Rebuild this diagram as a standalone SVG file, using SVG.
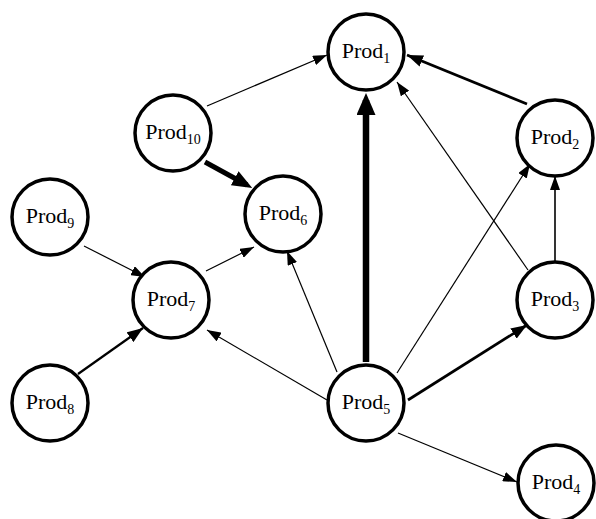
<svg xmlns="http://www.w3.org/2000/svg" width="596" height="519" viewBox="0 0 596 519">
<style>
.node circle{fill:#fff;stroke:#000;stroke-width:3.5}
.node text{font-family:'Liberation Serif',serif;font-size:22px;fill:#000;text-anchor:middle}
.sub{font-size:14px}
.e{stroke:#000;fill:none}
.t1{stroke-width:1.2}
.t15{stroke-width:1.6}
.t2{stroke-width:2.2}
.t25{stroke-width:2.7}
.t5{stroke-width:5}
.t6{stroke-width:6.5}
</style>
<defs>
<marker id="a1" markerUnits="userSpaceOnUse" markerWidth="14" markerHeight="10" refX="14" refY="5" orient="auto"><path d="M0,0 L14,5 L0,10 z" fill="#000"/></marker>
<marker id="a2" markerUnits="userSpaceOnUse" markerWidth="16" markerHeight="12" refX="16" refY="6" orient="auto"><path d="M0,0 L16,6 L0,12 z" fill="#000"/></marker>
<marker id="a3" markerUnits="userSpaceOnUse" markerWidth="20" markerHeight="16" refX="14" refY="8" orient="auto"><path d="M0,0 L20,8 L0,16 z" fill="#000"/></marker>
<marker id="a4" markerUnits="userSpaceOnUse" markerWidth="22" markerHeight="19" refX="15" refY="9.5" orient="auto"><path d="M0,0 L22,9.5 L0,19 z" fill="#000"/></marker>
</defs>
<g id="connectors">
<line class="e t1" x1="207" y1="106" x2="327" y2="55" marker-end="url(#a1)"/>
<line class="e t6" x1="366" y1="362" x2="366" y2="100" marker-end="url(#a4)"/>
<line class="e t1" x1="528" y1="270" x2="397" y2="82" marker-end="url(#a1)"/>
<line class="e t25" x1="527" y1="104" x2="407" y2="55" marker-end="url(#a2)"/>
<line class="e t5" x1="205" y1="162" x2="247" y2="185" marker-end="url(#a3)"/>
<line class="e t1" x1="84" y1="246" x2="145" y2="277" marker-end="url(#a1)"/>
<line class="e t1" x1="206" y1="271" x2="254" y2="247" marker-end="url(#a1)"/>
<line class="e t2" x1="78" y1="374" x2="143" y2="328" marker-end="url(#a2)"/>
<line class="e t1" x1="327" y1="400" x2="207" y2="330" marker-end="url(#a1)"/>
<line class="e t1" x1="337" y1="372" x2="287" y2="251" marker-end="url(#a1)"/>
<line class="e t1" x1="397" y1="373" x2="530" y2="164" marker-end="url(#a1)"/>
<line class="e t25" x1="408" y1="400" x2="527" y2="325" marker-end="url(#a2)"/>
<line class="e t15" x1="555" y1="262" x2="555" y2="176" marker-end="url(#a1)"/>
<line class="e t1" x1="398" y1="433" x2="517" y2="482" marker-end="url(#a1)"/>
</g>
<g id="Prod1" class="node"><circle cx="366" cy="52" r="38"/><text x="366" y="58" font-family="Liberation Serif, serif">Prod<tspan class="sub" dy="5">1</tspan></text></g>
<g id="Prod2" class="node"><circle cx="555" cy="138" r="38"/><text x="555" y="144" font-family="Liberation Serif, serif">Prod<tspan class="sub" dy="5">2</tspan></text></g>
<g id="Prod10" class="node"><circle cx="173" cy="133" r="38"/><text x="173" y="139" font-family="Liberation Serif, serif">Prod<tspan class="sub" dy="5">10</tspan></text></g>
<g id="Prod9" class="node"><circle cx="50" cy="217" r="38"/><text x="50" y="223" font-family="Liberation Serif, serif">Prod<tspan class="sub" dy="5">9</tspan></text></g>
<g id="Prod6" class="node"><circle cx="283" cy="214" r="38"/><text x="283" y="220" font-family="Liberation Serif, serif">Prod<tspan class="sub" dy="5">6</tspan></text></g>
<g id="Prod7" class="node"><circle cx="171" cy="300" r="38"/><text x="171" y="306" font-family="Liberation Serif, serif">Prod<tspan class="sub" dy="5">7</tspan></text></g>
<g id="Prod3" class="node"><circle cx="555" cy="300" r="38"/><text x="555" y="306" font-family="Liberation Serif, serif">Prod<tspan class="sub" dy="5">3</tspan></text></g>
<g id="Prod8" class="node"><circle cx="50" cy="403" r="38"/><text x="50" y="409" font-family="Liberation Serif, serif">Prod<tspan class="sub" dy="5">8</tspan></text></g>
<g id="Prod5" class="node"><circle cx="366" cy="403" r="38"/><text x="366" y="409" font-family="Liberation Serif, serif">Prod<tspan class="sub" dy="5">5</tspan></text></g>
<g id="Prod4" class="node"><circle cx="556" cy="483" r="38"/><text x="556" y="489" font-family="Liberation Serif, serif">Prod<tspan class="sub" dy="5">4</tspan></text></g>
</svg>
